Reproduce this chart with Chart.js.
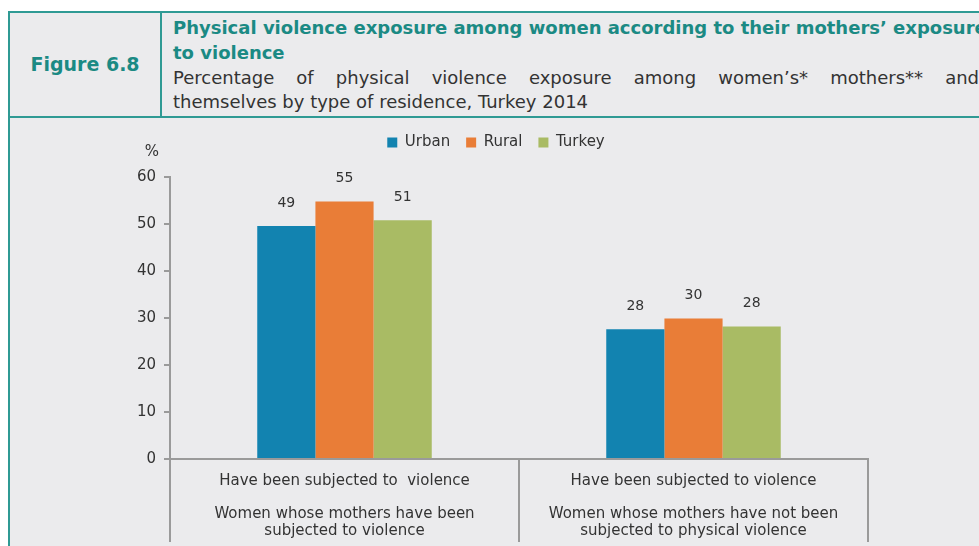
<!DOCTYPE html>
<html>
<head>
<meta charset="utf-8">
<script src="https://cdn.jsdelivr.net/npm/chart.js@4"></script>
<style>
    body { margin: 0; background: #fff; width: 979px; height: 546px; overflow: hidden; position: relative; font-family: "DejaVu Sans", sans-serif; }
    .head { position: absolute; left: 8px; top: 11px; width: 1100px; height: 103px; border: 2px solid #2f9a94; background: #ebebed; }
    .fig { position: absolute; left: 0; top: 0; width: 150px; height: 103px; border-right: 2px solid #2f9a94; color: #1b8a84; font-weight: bold; font-size: 19px; line-height: 103px; text-align: center; }
    .title { position: absolute; left: 163px; top: 2px; color: #1b8a84; font-weight: bold; font-size: 18px; line-height: 25px; white-space: nowrap; }
    .sub1 { position: absolute; left: 163px; top: 53px; width: 806px; font-size: 18px; line-height: 24px; color: #333; text-align: justify; text-align-last: justify; white-space: nowrap; }
    .sub2 { position: absolute; left: 163px; top: 77px; font-size: 18px; line-height: 24px; color: #333; white-space: nowrap; }
    .body { position: absolute; left: 8px; top: 118px; width: 1100px; height: 440px; border-left: 2px solid #2f9a94; background: #ebebed; }
    #wrap { position: absolute; left: 13px; top: 119px; width: 966px; height: 427px; }
</style>
</head>
<body>
<div class="head">
    <div class="fig">Figure 6.8</div>
    <div class="title">Physical violence exposure among women according to their mothers’ exposure<br>to violence</div>
    <div class="sub1">Percentage of physical violence exposure among women’s* mothers** and</div>
    <div class="sub2">themselves by type of residence, Turkey 2014</div>
</div>
<div class="body"></div>
<div id="wrap"><canvas id="graph"></canvas></div>
<script>
const categories = [
    ['Have been subjected to  violence', '', 'Women whose mothers have been', 'subjected to violence'],
    ['Have been subjected to violence', '', 'Women whose mothers have not been', 'subjected to physical violence']
]
const urban = [49.6, 27.6]
const rural = [54.8, 29.9]
const turkey = [50.8, 28.2]
const urbanLabels = ['49', '28']
const ruralLabels = ['55', '30']
const turkeyLabels = ['51', '28']
const yTicks = [0, 10, 20, 30, 40, 50, 60]

const font = "'DejaVu Sans', sans-serif"
const shownLabels = [urbanLabels, ruralLabels, turkeyLabels]

// value labels, the "%" unit and the group separators under the axis
const extras = {
    id: 'extras',
    afterDatasetsDraw(chart) {
        const ctx = chart.ctx
        ctx.save()
        ctx.font = '14px ' + font
        ctx.fillStyle = '#333'
        ctx.textAlign = 'center'
        ctx.textBaseline = 'middle'
        chart.data.datasets.forEach((ds, i) => {
            chart.getDatasetMeta(i).data.forEach((bar, j) => {
                ctx.fillText(shownLabels[i][j], bar.x, bar.y - 23)
            })
        })
        ctx.font = '15px ' + font
        ctx.fillText('%', chart.chartArea.left - 18, chart.chartArea.top - 25)

        const x = chart.scales.x
        const step = x.getPixelForValue(1) - x.getPixelForValue(0)
        ctx.strokeStyle = '#9a9a9a'
        ctx.lineWidth = 2
        for (let i = 0; i <= categories.length; i++) {
            const px = Math.round(x.getPixelForValue(i) - step / 2)
            ctx.beginPath()
            ctx.moveTo(px, x.top)
            ctx.lineTo(px, x.top + 83)
            ctx.stroke()
        }
        ctx.restore()
    }
}

let ctx = document.getElementById('graph').getContext('2d')
new Chart(ctx, {
    type: 'bar',
    data: {
        labels: categories,
        datasets: [
            { label: 'Urban', data: urban, backgroundColor: '#1283b0' },
            { label: 'Rural', data: rural, backgroundColor: '#e97d37' },
            { label: 'Turkey', data: turkey, backgroundColor: '#a9bb64' }
        ]
    },
    options: {
        responsive: true,
        maintainAspectRatio: false,
        animation: false,
        layout: { padding: 0 },
        datasets: {
            bar: { categoryPercentage: 0.5, barPercentage: 1.0, borderWidth: 0 }
        },
        plugins: {
            tooltip: { enabled: false },
            legend: {
                position: 'top',
                labels: {
                    boxWidth: 10,
                    boxHeight: 10,
                    padding: 16,
                    color: '#333',
                    font: { family: font, size: 15 }
                }
            }
        },
        scales: {
            x: {
                grid: { display: false },
                border: { color: '#9a9a9a', width: 2 },
                ticks: {
                    color: '#333',
                    padding: 6,
                    maxRotation: 0,
                    autoSkip: false,
                    font: { family: font, size: 15, lineHeight: 1.1 }
                },
                afterFit(scale) { scale.height = 87 }
            },
            y: {
                min: 0,
                max: 60,
                afterBuildTicks(scale) { scale.ticks = yTicks.map(v => ({ value: v })) },
                grid: { drawOnChartArea: false, color: '#9a9a9a', lineWidth: 2, tickLength: 6 },
                border: { color: '#9a9a9a', width: 2 },
                ticks: {
                    color: '#333',
                    padding: 8,
                    font: { family: font, size: 15 }
                },
                afterFit(scale) { scale.width = 157 }
            },
            // empty space on the right, so the legend stays centred on the whole panel
            spacer: {
                position: 'right',
                grid: { display: false },
                border: { display: false },
                ticks: { display: false },
                afterFit(scale) { scale.width = 111 }
            }
        }
    },
    plugins: [extras, {
        id: 'legendHeight',
        beforeInit(chart) {
            const fit = chart.legend.fit
            chart.legend.fit = function () {
                fit.bind(chart.legend)()
                this.height = 58
            }
        }
    }]
});
</script>
</body>
</html>
